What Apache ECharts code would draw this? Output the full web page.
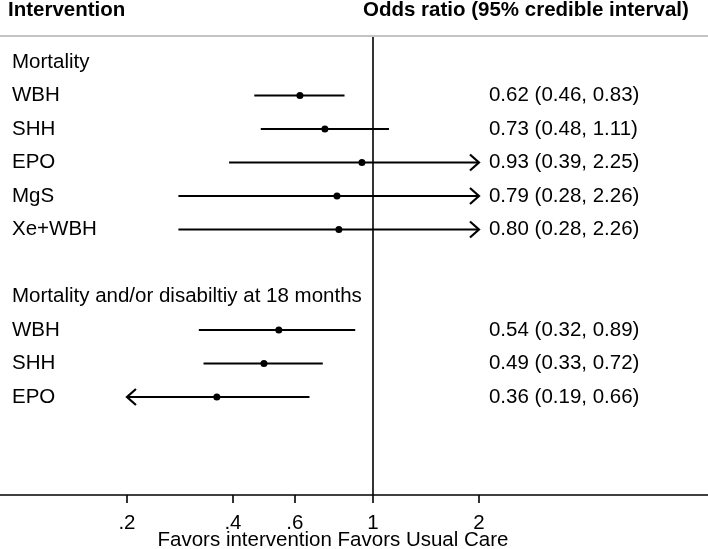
<!DOCTYPE html>
<html>
<head>
<meta charset="utf-8">
<script src="https://cdn.jsdelivr.net/npm/echarts@6/dist/echarts.min.js"></script>
<style>html,body{margin:0;padding:0;background:#fff}#c{width:708px;height:549px}</style>
</head>
<body>
<div id="c"></div>
<script>
// ---- data ----
const categories = ['Mortality','WBH','SHH','EPO','MgS','Xe+WBH','','Mortality and/or disabiltiy at 18 months','WBH','SHH','EPO'];
const estimate = [null,0.62,0.73,0.93,0.79,0.80,null,null,0.54,0.49,0.36];
const lower    = [null,0.46,0.48,0.39,0.28,0.28,null,null,0.32,0.33,0.19];
const upper    = [null,0.83,1.11,2.25,2.26,2.26,null,null,0.89,0.72,0.66];
const tickValues = [0.2,0.4,0.6,1,2];
const tickLabels = ['.2','.4','.6','1','2'];
const clipMin = 0.2, clipMax = 2;

const FONT = '"Liberation Sans", Arial, Helvetica, sans-serif';
const FS = 20.5;
const lg = v => Math.log10(v);

const rowData = categories.map((c,i)=>[i]);

const chart = echarts.init(document.getElementById('c'), null, {renderer:'canvas'});
chart.setOption({
  animation:false,
  backgroundColor:'#fff',
  title:[
    {text:'Intervention', left:8, top:0, padding:0, textStyle:{fontFamily:FONT,fontSize:FS,fontWeight:'bold',color:'#000'}},
    {text:'Odds ratio (95% credible interval)', left:363, top:0, padding:0, textStyle:{fontFamily:FONT,fontSize:FS,fontWeight:'bold',color:'#000'}}
  ],
  graphic:[
    {type:'line', shape:{x1:0,y1:36,x2:708,y2:36}, style:{stroke:'#c4c4c4', lineWidth:2}, z:10}
  ],
  grid:{left:0,right:0,top:36,bottom:54,containLabel:false,outerBoundsMode:'none'},
  xAxis:{
    type:'value', min:-1.0597, max:0.9517,
    name:'Favors intervention Favors Usual Care', nameLocation:'middle', nameGap:35, nameMoveOverlap:false,
    nameTextStyle:{fontFamily:FONT,fontSize:FS,color:'#000',padding:[0,42,0,0]},
    axisLine:{show:true,onZero:false,lineStyle:{color:'#000',width:1.6}},
    axisTick:{show:true,length:8,lineStyle:{color:'#000',width:1.6},customValues:tickValues.map(lg)},
    axisLabel:{show:true,margin:18,fontFamily:FONT,fontSize:FS,color:'#000',
      customValues:tickValues.map(lg),
      formatter:v=>{let best=0,d=1e9;tickValues.forEach((t,i)=>{const dd=Math.abs(lg(t)-v);if(dd<d){d=dd;best=i;}});return tickLabels[best];}},
    splitLine:{show:false}
  },
  yAxis:{
    type:'value', inverse:true, min:-0.776, max:12.925,
    axisLine:{show:false},axisTick:{show:false},axisLabel:{show:false},splitLine:{show:false}
  },
  series:[
    {
      type:'line', data:[], silent:true,
      markLine:{symbol:'none', silent:true, label:{show:false},
        lineStyle:{color:'#000',width:1.6,type:'solid'},
        data:[{xAxis:lg(1)}]}
    },
    {
      type:'custom', data:rowData, silent:true,
      renderItem:(params,api)=>{
        const i = api.value(0);
        const y = api.coord([0,i])[1];
        const x0 = params.coordSys.x + 12;
        return {type:'text', style:{text:categories[i], x:x0, y:y, fontFamily:FONT, fontSize:FS, fill:'#000', align:'left', verticalAlign:'middle'}};
      }
    },
    {
      type:'custom', data:rowData, silent:true,
      renderItem:(params,api)=>{
        const i = api.value(0);
        if (estimate[i]==null) return null;
        const lo = lower[i], hi = upper[i], est = estimate[i];
        const a = api.coord([lg(Math.max(lo,clipMin)), i]);
        const b = api.coord([lg(Math.min(hi,clipMax)), i]);
        const e = api.coord([lg(est), i]);
        const tx = api.coord([lg(clipMax), i])[0] + 10;
        const ls = {stroke:'#000', lineWidth:2.2, fill:null};
        const ch = [
          {type:'line', shape:{x1:a[0],y1:a[1],x2:b[0],y2:b[1]}, style:ls}
        ];
        if (hi > clipMax) ch.push({type:'polyline', shape:{points:[[b[0]-9,b[1]-8],[b[0],b[1]],[b[0]-9,b[1]+8]]}, style:ls});
        if (lo < clipMin) ch.push({type:'polyline', shape:{points:[[a[0]+9,a[1]-8],[a[0],a[1]],[a[0]+9,a[1]+8]]}, style:ls});
        ch.push({type:'circle', shape:{cx:e[0],cy:e[1],r:3.5}, style:{fill:'#000'}});
        ch.push({type:'text', style:{text:est.toFixed(2)+' ('+lo.toFixed(2)+', '+hi.toFixed(2)+')', x:tx, y:e[1], fontFamily:FONT, fontSize:FS, fill:'#000', align:'left', verticalAlign:'middle'}});
        return {type:'group', children:ch};
      }
    }
  ]
});
</script>
</body>
</html>
